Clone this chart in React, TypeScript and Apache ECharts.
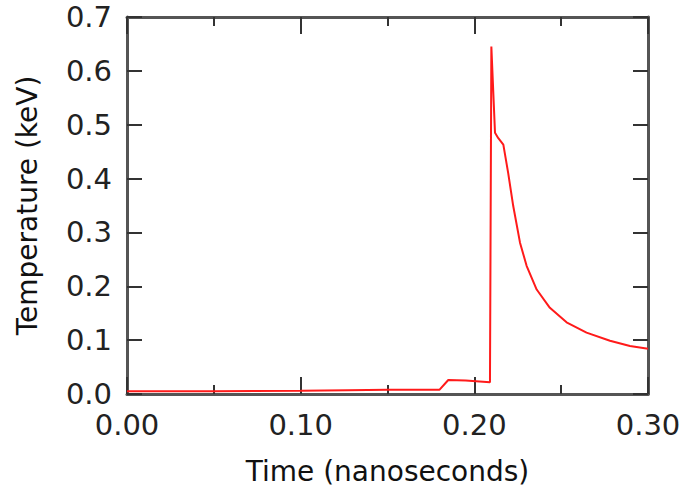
import React, { useEffect, useRef } from "react";
import * as echarts from "echarts";

const timeNs = [0, 0.05, 0.1, 0.127, 0.15, 0.18, 0.185, 0.195, 0.209, 0.2098, 0.2119, 0.2138, 0.2167, 0.2195, 0.2224, 0.2263, 0.2301, 0.2359, 0.2435, 0.2531, 0.2646, 0.2781, 0.2896, 0.3];
const temperatureKeV = [0.005, 0.005, 0.006, 0.007, 0.008, 0.008, 0.026, 0.025, 0.022, 0.645, 0.485, 0.475, 0.463, 0.41, 0.349, 0.281, 0.238, 0.194, 0.16, 0.133, 0.114, 0.099, 0.089, 0.084];

const xTickLabels = ["0.00", "0.10", "0.20", "0.30"];
const yTickLabels = ["0.0", "0.1", "0.2", "0.3", "0.4", "0.5", "0.6", "0.7"];

export default function App() {
  const ref = useRef<HTMLDivElement>(null);
  useEffect(() => {
    if (!ref.current) return;
    const chart = echarts.init(ref.current, null, { renderer: "svg" });
    const font = "'DejaVu Sans', sans-serif";
    const axisLine = { show: true, onZero: false, lineStyle: { color: "#555", width: 3 } };
    const xBase = {
      type: "value" as const,
      min: 0,
      max: 0.3,
      interval: 0.1,
      axisLine,
      splitLine: { show: false },
      axisTick: { show: true, inside: true, length: 17, lineStyle: { color: "#333", width: 2 } },
      minorTick: { show: true, splitNumber: 2, length: 9, lineStyle: { color: "#333", width: 2 } },
      minorSplitLine: { show: false },
    };
    const yBase = {
      type: "value" as const,
      min: 0,
      max: 0.7,
      interval: 0.1,
      axisLine,
      splitLine: { show: false },
      axisTick: { show: true, inside: true, length: 15, lineStyle: { color: "#333", width: 2 } },
    };
    chart.setOption({
      animation: false,
      backgroundColor: "#fff",
      grid: { left: 127, right: 41, top: 17, bottom: 95 },
      xAxis: [
        {
          ...xBase,
          position: "bottom",
          name: "Time (nanoseconds)",
          nameLocation: "middle",
          nameGap: 63,
          nameTextStyle: { fontFamily: font, fontSize: 28, color: "#111" },
          axisLabel: {
            show: true,
            margin: 16,
            fontFamily: font,
            fontSize: 29,
            color: "#222",
            formatter: (v: number) => xTickLabels[Math.round(v * 10)] ?? "",
          },
        },
        { ...xBase, position: "top", axisLabel: { show: false } },
      ],
      yAxis: [
        {
          ...yBase,
          position: "left",
          name: "Temperature (keV)",
          nameLocation: "middle",
          nameGap: 86,
          nameTextStyle: { fontFamily: font, fontSize: 28, color: "#111" },
          axisLabel: {
            show: true,
            margin: 15,
            fontFamily: font,
            fontSize: 29,
            color: "#222",
            padding: [8, 0, 0, 0],
            formatter: (v: number) => yTickLabels[Math.round(v * 10)] ?? "",
          },
        },
        { ...yBase, position: "right", axisLabel: { show: false } },
      ],
      series: [
        {
          type: "line",
          xAxisIndex: 0,
          yAxisIndex: 0,
          data: timeNs.map((t, i) => [t, temperatureKeV[i]]),
          showSymbol: false,
          symbol: "none",
          lineStyle: { color: "#ff1a1a", width: 2 },
          z: 1,
        },
      ],
    });
    return () => chart.dispose();
  }, []);
  return <div ref={ref} style={{ width: 689, height: 490, position: "absolute", left: 0, top: 0 }} />;
}
